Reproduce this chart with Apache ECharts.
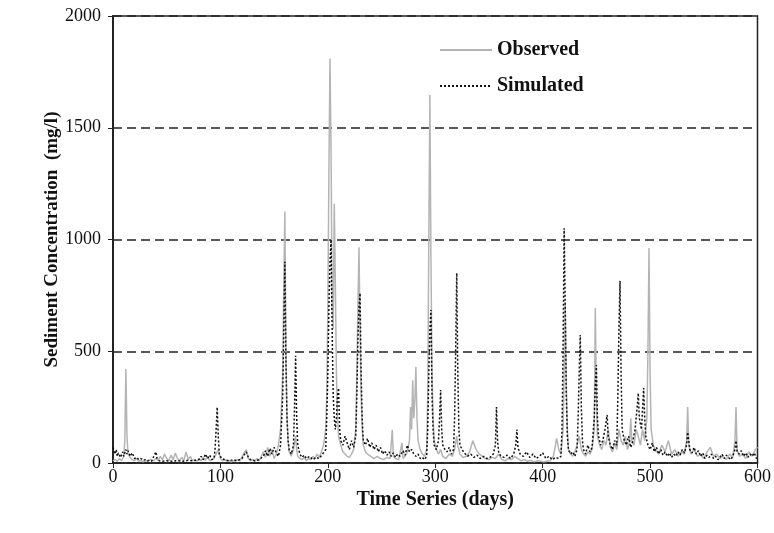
<!DOCTYPE html>
<html style="height: 100%">
   <head>
       <meta charset="utf-8">
   </head>
   <body style="height: 100%; margin: 0; background: #fff">
       <div id="container" style="width: 774px; height: 533px"></div>
       <script type="text/javascript" src="https://cdn.jsdelivr.net/npm/echarts@6/dist/echarts.min.js"></script>
       <script type="text/javascript">
// [day, mg/l]
var observed = [[0,10],[2,15],[4,8],[6,20],[8,10],[10,30],[11,100],[12,420],[13,120],[14,40],[16,25],[18,15],[20,10],[22,20],[24,8],[26,12],[28,5],[30,10],[32,8],[35,15],[38,10],[40,20],[42,12],[44,30],[46,15],[48,40],[50,20],[52,10],[54,35],[56,15],[58,45],[60,20],[62,10],[64,25],[66,12],[68,50],[70,15],[72,30],[74,10],[76,15],[78,8],[80,20],[82,10],[84,25],[86,12],[88,30],[90,10],[92,15],[94,20],[96,40],[98,60],[100,20],[102,10],[104,15],[106,8],[108,12],[110,5],[112,10],[114,8],[116,15],[118,10],[120,25],[122,45],[124,60],[126,20],[128,10],[130,15],[132,8],[134,20],[136,10],[138,30],[140,50],[142,25],[144,70],[146,30],[148,60],[150,20],[152,40],[154,80],[156,150],[158,400],[159,800],[160,1125],[161,500],[162,200],[163,100],[164,50],[166,30],[168,60],[170,120],[171,60],[172,30],[174,20],[176,15],[178,25],[180,10],[182,20],[184,15],[186,30],[188,20],[190,40],[192,25],[194,50],[196,80],[198,150],[199,300],[200,700],[201,1300],[202,1810],[203,1400],[204,700],[205,600],[206,1160],[207,800],[208,400],[209,200],[210,120],[212,80],[214,50],[216,40],[218,30],[220,25],[222,40],[224,60],[226,150],[227,400],[228,700],[229,965],[230,600],[231,300],[232,150],[233,80],[235,50],[237,40],[240,30],[243,20],[246,30],[249,20],[252,15],[255,25],[258,20],[260,148],[261,30],[263,20],[266,15],[269,90],[270,20],[272,30],[274,50],[276,100],[277,250],[278,150],[279,370],[280,200],[281,280],[282,430],[283,200],[284,100],[286,60],[288,40],[290,30],[292,60],[293,300],[294,1000],[295,1646],[296,900],[297,400],[298,200],[299,100],[301,60],[303,40],[305,60],[307,30],[310,20],[313,40],[316,30],[318,60],[320,120],[321,80],[323,40],[326,25],[329,30],[332,50],[335,100],[338,60],[341,40],[344,30],[347,20],[350,15],[353,25],[356,20],[359,40],[362,15],[365,10],[368,20],[371,15],[374,30],[377,20],[380,10],[383,15],[386,8],[389,12],[392,5],[395,10],[398,8],[401,5],[404,8],[407,10],[410,30],[413,110],[415,60],[417,40],[419,150],[420,400],[421,720],[422,350],[423,150],[424,60],[426,40],[428,30],[430,50],[432,80],[434,120],[436,60],[438,40],[440,30],[442,50],[444,40],[446,60],[448,150],[449,693],[450,300],[451,120],[453,80],[455,60],[457,100],[459,80],[461,150],[463,70],[465,50],[467,90],[469,60],[471,150],[473,100],[475,80],[477,120],[479,60],[481,100],[482,200],[483,100],[485,80],[487,150],[489,120],[491,80],[493,150],[495,100],[497,200],[498,500],[499,962],[500,400],[501,150],[503,80],[505,60],[508,40],[511,80],[514,50],[517,100],[520,40],[523,60],[526,30],[529,50],[532,40],[534,100],[535,250],[536,80],[538,40],[541,60],[544,30],[547,40],[550,20],[553,50],[556,70],[559,30],[562,40],[565,20],[568,30],[571,15],[574,40],[577,25],[579,100],[580,250],[581,60],[583,30],[586,40],[589,20],[592,50],[595,30],[598,60],[600,70]];

var simulated = [[0,70],[1,50],[2,40],[3,60],[4,30],[5,45],[7,25],[9,50],[10,30],[12,60],[13,40],[14,55],[16,30],[18,45],[20,20],[22,25],[24,15],[26,20],[28,12],[30,15],[32,10],[34,12],[36,8],[38,30],[40,50],[41,20],[43,10],[46,8],[50,10],[55,8],[60,10],[65,8],[70,12],[75,10],[80,15],[82,30],[84,15],[86,40],[88,20],[90,35],[92,15],[94,20],[95,60],[96,150],[97,250],[98,120],[99,40],[101,20],[104,15],[108,10],[112,15],[116,10],[120,20],[122,35],[124,50],[126,25],[128,15],[132,10],[136,15],[140,30],[142,55],[144,30],[146,65],[148,40],[150,70],[152,45],[154,30],[156,80],[158,300],[159,600],[160,900],[161,450],[162,200],[163,100],[164,60],[166,40],[168,80],[169,250],[170,480],[171,200],[172,80],[174,40],[176,25],[178,35],[180,20],[183,30],[186,15],[189,25],[192,20],[195,40],[198,60],[199,200],[200,400],[201,700],[202,900],[203,1000],[204,600],[205,300],[206,200],[207,150],[208,200],[209,300],[210,335],[211,150],[212,100],[214,80],[216,120],[218,90],[220,60],[222,100],[224,70],[226,120],[227,300],[228,550],[229,700],[230,760],[231,400],[232,200],[233,100],[235,80],[237,110],[239,70],[241,90],[243,60],[245,80],[247,50],[249,70],[251,40],[253,55],[255,35],[257,50],[259,30],[261,45],[263,25],[265,40],[267,30],[270,55],[272,35],[274,80],[276,50],[278,60],[280,40],[282,30],[284,40],[286,20],[288,25],[290,15],[292,30],[293,150],[294,400],[295,600],[296,685],[297,300],[298,150],[299,80],[301,60],[303,100],[304,200],[305,327],[306,150],[307,80],[309,60],[311,50],[313,70],[315,40],[317,60],[318,200],[319,500],[320,850],[321,400],[322,150],[323,80],[325,60],[327,45],[330,30],[333,40],[336,25],[339,35],[342,20],[345,30],[348,20],[351,25],[354,40],[356,80],[357,250],[358,100],[359,50],[361,30],[364,25],[367,35],[370,20],[373,40],[375,80],[376,150],[377,70],[379,40],[382,30],[385,50],[388,25],[391,40],[394,20],[397,30],[400,45],[403,20],[406,30],[409,15],[412,25],[415,20],[417,30],[418,150],[419,500],[420,1050],[421,700],[422,300],[423,120],[424,60],[426,40],[428,50],[430,30],[432,60],[433,200],[434,400],[435,573],[436,250],[437,100],[438,60],[440,40],[442,80],[444,50],[446,70],[448,200],[449,350],[450,438],[451,200],[452,120],[454,80],[456,100],[458,150],[460,215],[461,120],[463,80],[465,60],[467,100],[469,80],[470,300],[471,600],[472,815],[473,400],[474,150],[476,100],[478,80],[480,120],[482,70],[484,100],[486,150],[488,250],[489,313],[490,200],[492,150],[494,335],[495,200],[496,120],[498,80],[500,60],[502,90],[504,50],[506,70],[508,40],[510,60],[512,35],[514,50],[516,30],[518,45],[520,25],[522,40],[524,30],[526,50],[528,35],[530,60],[532,45],[534,80],[535,138],[536,100],[537,60],[539,45],[541,70],[543,40],[545,55],[547,30],[549,45],[551,20],[553,35],[555,25],[557,40],[559,20],[561,30],[563,15],[565,25],[567,40],[569,20],[571,35],[573,25],[575,15],[577,30],[579,60],[580,100],[581,50],[583,40],[585,55],[587,30],[589,45],[591,25],[593,40],[595,30],[597,45],[599,20],[600,30]];

var dom = document.getElementById("container");
var myChart = echarts.init(dom);
var serif = '"Liberation Serif", "Times New Roman", serif';

var option = {
    animation: false,
    backgroundColor: '#fff',
    grid: {
        left: 113, right: 13, top: 16, bottom: 70,
        show: true, borderColor: '#222', borderWidth: 1.5
    },
    legend: {
        orient: 'vertical',
        left: 434, top: 35,
        itemWidth: 52, itemHeight: 16, itemGap: 16,
        itemStyle: { opacity: 0 },
        textStyle: { fontFamily: serif, fontSize: 20, fontWeight: 'bold', color: '#111' },
        data: ['Observed', 'Simulated']
    },
    xAxis: {
        type: 'value',
        min: 0, max: 600, interval: 100,
        name: 'Time Series (days)',
        nameLocation: 'middle', nameGap: 27,
        nameMoveOverlap: false,
        nameTextStyle: { fontFamily: serif, fontSize: 20, fontWeight: 'bold', color: '#111' },
        axisLine: { lineStyle: { color: '#222', width: 1.5 } },
        axisTick: { inside: false, length: 5, lineStyle: { color: '#222' } },
        axisLabel: { fontFamily: serif, fontSize: 18, color: '#111', margin: 5 },
        splitLine: { show: false }
    },
    yAxis: {
        type: 'value',
        min: 0, max: 2000, interval: 500,
        name: 'Sediment Concentration  (mg/l)',
        nameLocation: 'middle', nameGap: 51,
        nameMoveOverlap: false,
        nameTextStyle: { fontFamily: serif, fontSize: 19, fontWeight: 'bold', color: '#111' },
        axisLine: { lineStyle: { color: '#222', width: 2 } },
        axisTick: { length: 5, lineStyle: { color: '#222' } },
        axisLabel: {
            fontFamily: serif, fontSize: 18, color: '#111', margin: 12,
            formatter: function (v) { return String(v); }
        },
        splitLine: { lineStyle: { color: '#222', width: 1.5, type: [9, 5] } }
    },
    series: [
        {
            name: 'Observed',
            type: 'line',
            data: observed,
            symbol: 'none',
            lineStyle: { color: '#b4b4b4', width: 1.5 },
            itemStyle: { color: '#b4b4b4' }
        },
        {
            name: 'Simulated',
            type: 'line',
            data: simulated,
            symbol: 'none',
            lineStyle: { color: '#111', width: 1.5, type: [2, 2] },
            itemStyle: { color: '#111' }
        }
    ]
};
myChart.setOption(option);
       </script>
   </body>
</html>
